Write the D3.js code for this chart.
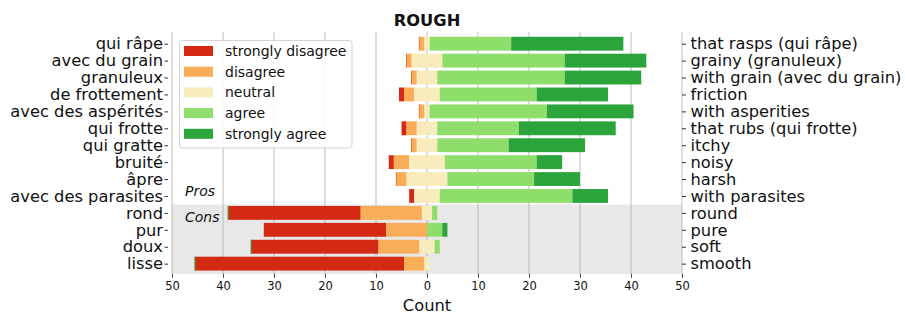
<!DOCTYPE html>
<html>
<head>
<meta charset="utf-8">
<script src="https://cdn.jsdelivr.net/npm/d3@7"></script>
<style>
  html, body { margin: 0; padding: 0; background: #ffffff; }
  svg { display: block; font-family: "DejaVu Sans", sans-serif; }
</style>
</head>
<body>
<svg id="chart" width="905" height="313"></svg>
<script>
// ---- data ----
const labelsFr = ["qui râpe", "avec du grain", "granuleux", "de frottement", "avec des aspérités",
  "qui frotte", "qui gratte", "bruité", "âpre", "avec des parasites", "rond", "pur", "doux", "lisse"];
const labelsEn = ["that rasps (qui râpe)", "grainy (granuleux)", "with grain (avec du grain)", "friction",
  "with asperities", "that rubs (qui frotte)", "itchy", "noisy", "harsh", "with parasites",
  "round", "pure", "soft", "smooth"];
const groups = ["Pros", "Pros", "Pros", "Pros", "Pros", "Pros", "Pros", "Pros", "Pros", "Pros",
  "Cons", "Cons", "Cons", "Cons"];
const levels = ["strongly disagree", "disagree", "neutral", "agree", "strongly agree"];
const stronglyDisagree = [0, 0, 0, 1, 0, 1, 0, 1, 0, 1, 26, 24, 25, 41];
const disagree         = [1, 1, 1, 2, 1, 2, 1, 3, 2, 0, 12, 8, 8, 4];
const neutral          = [1, 6, 4, 5, 1, 4, 4, 7, 8, 5, 2, 0, 3, 1];
const agree            = [16, 24, 25, 19, 23, 16, 14, 18, 17, 26, 1, 3, 1, 0];
const stronglyAgree    = [22, 16, 15, 14, 17, 19, 15, 5, 9, 7, 0, 1, 0, 0];
const xTicks = [-50, -40, -30, -20, -10, 0, 10, 20, 30, 40, 50];
const title = "ROUGH";
const xTitle = "Count";

const colors = ["#d42a14", "#faad58", "#f8ecbc", "#8fdd6a", "#2ca43c"];

// ---- layout ----
const svg = d3.select("#chart");
const plotL = 172, plotR = 682, plotT = 32.7, plotB = 273.8;
const x = d3.scaleLinear().domain([-50, 50]).range([plotL, plotR]);
const y = d3.scaleLinear().domain([-0.65, 13.6]).range([plotT, plotB]);
const pitch = y(1) - y(0);
const barH = pitch * 0.82;

// build rows
const rows = labelsFr.map((lab, i) => {
  const vals = [stronglyDisagree[i], disagree[i], neutral[i], agree[i], stronglyAgree[i]];
  const start = -(vals[0] + vals[1] + vals[2] / 2);
  const segs = [];
  let acc = start;
  vals.forEach((v, k) => { segs.push({ k, v, x0: acc, x1: acc + v }); acc += v; });
  return { i, lab, vals, start, segs, group: groups[i] };
});

// Cons background band
const firstCons = groups.indexOf("Cons");
svg.append("rect")
  .attr("x", x(-50)).attr("width", x(50) - x(-50))
  .attr("y", y(firstCons - 0.5)).attr("height", plotB - y(firstCons - 0.5))
  .attr("fill", "#e8e8e8");

// vertical grid
svg.append("g").selectAll("line").data(xTicks).join("line")
  .attr("x1", d => x(d)).attr("x2", d => x(d))
  .attr("y1", plotT - 1).attr("y2", plotB)
  .attr("stroke", "#b0b0b0").attr("stroke-opacity", 0.55).attr("stroke-width", 1.5);

// bars
const gBars = svg.append("g");
rows.forEach(r => {
  r.segs.forEach(s => {
    if (s.v > 0) {
      gBars.append("rect")
        .attr("x", x(s.x0)).attr("width", x(s.x1) - x(s.x0))
        .attr("y", y(r.i) - barH / 2).attr("height", barH)
        .attr("fill", colors[s.k]);
    } else if (s.k === 0 || s.k === 4) {
      // zero-count extreme category renders as hairline at the row's start
      gBars.append("rect")
        .attr("x", x(r.start) - 0.5).attr("width", 1)
        .attr("y", y(r.i) - barH / 2).attr("height", barH)
        .attr("fill", colors[s.k]);
    }
  });
});

// bottom axis
const xAxis = d3.axisBottom(x).tickValues(xTicks).tickFormat(d => Math.abs(d)).tickSize(4).tickPadding(4);
const gx = svg.append("g").attr("transform", `translate(0,${plotB})`).call(xAxis);
gx.select(".domain").remove();
gx.selectAll(".tick line").attr("stroke", "#444").attr("stroke-width", 1);
gx.selectAll(".tick text").attr("font-size", "11.5px").attr("fill", "#111").attr("font-family", "DejaVu Sans");

// left axis (French labels)
const yL = d3.axisLeft(y).tickValues(d3.range(labelsFr.length)).tickFormat(i => labelsFr[i]).tickSize(3.5).tickPadding(1.5);
const gyl = svg.append("g").attr("transform", `translate(${plotL - 4},0)`).call(yL);
gyl.select(".domain").remove();
gyl.selectAll(".tick line").attr("stroke", "#333");
gyl.selectAll(".tick text").attr("font-size", "16.3px").attr("fill", "#111").attr("font-family", "DejaVu Sans");

// right axis (English labels)
const yR = d3.axisRight(y).tickValues(d3.range(labelsEn.length)).tickFormat(i => labelsEn[i]).tickSize(4).tickPadding(4.5);
const gyr = svg.append("g").attr("transform", `translate(${plotR},0)`).call(yR);
gyr.select(".domain").remove();
gyr.selectAll(".tick line").attr("stroke", "#333");
gyr.selectAll(".tick text").attr("font-size", "16.3px").attr("fill", "#111").attr("font-family", "DejaVu Sans");

// title
svg.append("text").attr("x", x(0)).attr("y", 25.5).attr("text-anchor", "middle")
  .attr("font-size", "16.3px").attr("font-weight", "bold").attr("fill", "#111").text(title);

// x label
svg.append("text").attr("x", x(0)).attr("y", 310.5).attr("text-anchor", "middle")
  .attr("font-size", "16.3px").attr("fill", "#111").text(xTitle);

// group labels
svg.append("text").attr("x", 185).attr("y", y(firstCons - 0.5) - 8.5)
  .attr("font-size", "14px").attr("font-style", "italic").attr("fill", "#111").text("Pros");
svg.append("text").attr("x", 185).attr("y", y(firstCons - 0.5) + 17.5)
  .attr("font-size", "14px").attr("font-style", "italic").attr("fill", "#111").text("Cons");

// legend
const lg = svg.append("g");
lg.append("rect").attr("x", 179.5).attr("y", 40.5).attr("width", 172.5).attr("height", 107.5)
  .attr("rx", 3).attr("fill", "#ffffff").attr("fill-opacity", 0.9).attr("stroke", "#d3d3d3");
levels.forEach((lv, k) => {
  const cy = 51 + k * 20.7;
  lg.append("rect").attr("x", 184).attr("y", cy - 5).attr("width", 29).attr("height", 10).attr("fill", colors[k]);
  lg.append("text").attr("x", 225).attr("y", cy).attr("dy", "0.36em")
    .attr("font-size", "14px").attr("fill", "#111").text(lv);
});
</script>
</body>
</html>
